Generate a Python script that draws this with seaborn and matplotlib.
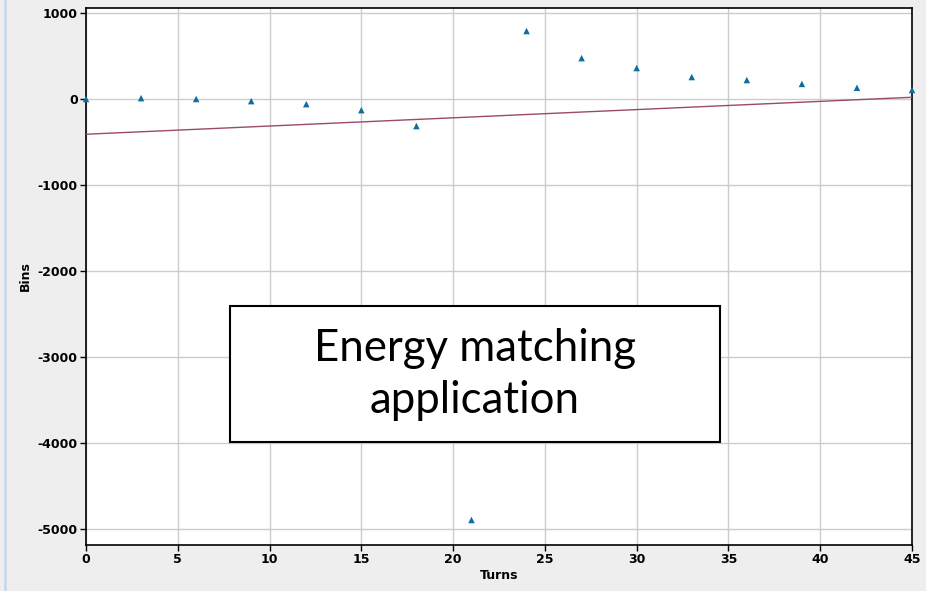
import matplotlib
matplotlib.use("Agg")
import matplotlib.pyplot as plt
import seaborn as sns
import pandas as pd
from matplotlib.patches import Rectangle
from matplotlib.lines import Line2D

turns = [0, 3, 6, 9, 12, 15, 18, 21, 24, 27, 30, 33, 36, 39, 42, 45]
bins = [0, 10, 0, -25, -60, -130, -315, -4895, 790, 475, 360, 255, 220, 175, 130, 105]
fit_turns = [0, 45]
fit_bins = [-410, 20]
x_ticks = [0, 5, 10, 15, 20, 25, 30, 35, 40, 45]
y_ticks = [-5000, -4000, -3000, -2000, -1000, 0, 1000]

sns.set_theme(style="whitegrid")
plt.rcParams['font.family'] = ['DejaVu Sans']
plt.rcParams['text.color'] = 'black'
plt.rcParams['axes.labelcolor'] = 'black'
plt.rcParams['xtick.color'] = 'black'
plt.rcParams['ytick.color'] = 'black'

fig = plt.figure(figsize=(9.26, 5.91), dpi=100, facecolor="#eeeeee")
ax = fig.add_axes([0.0929, 0.0778, 0.892, 0.9087])
ax.set_facecolor("white")

pts = pd.DataFrame({"Turns": turns, "Bins": bins})
fit = pd.DataFrame({"Turns": fit_turns, "Bins": fit_bins})
sns.lineplot(data=fit, x="Turns", y="Bins", ax=ax, color="#9b4a68", linewidth=1.0, zorder=3)
sns.scatterplot(data=pts, x="Turns", y="Bins", ax=ax, marker="^", s=22, color="#0f6e9e",
                edgecolor="none", zorder=4, clip_on=False)

ax.set_xlim(0, 45)
ax.set_ylim(-5186, 1058)
ax.set_xticks(x_ticks)
ax.set_yticks(y_ticks)
ax.set_xticklabels([str(v) for v in x_ticks], fontsize=9, fontweight="bold")
ax.set_yticklabels([str(v) for v in y_ticks], fontsize=9, fontweight="bold")
ax.set_xlabel("Turns", fontsize=9, fontweight="bold", labelpad=2)
ax.set_ylabel("Bins", fontsize=9, fontweight="bold", labelpad=4)
ax.grid(True, color="#cccccc", linewidth=1.0)
ax.tick_params(axis="both", which="major", length=4, width=1, color="black", pad=2,
               bottom=True, left=True)
for side in ["left", "bottom", "top", "right"]:
    ax.spines[side].set_color("black")
    ax.spines[side].set_linewidth(1.2)

fig.add_artist(Line2D([0.0055, 0.0055], [0, 1], transform=fig.transFigure,
                      color="#c9d8ea", linewidth=2))

rect = Rectangle((0.2484, 0.2521), 0.529, 0.2301, transform=fig.transFigure,
                 facecolor="white", edgecolor="black", linewidth=1.5, zorder=10)
fig.add_artist(rect)
fig.text(0.513, 0.367, "Energy matching\napplication", ha="center", va="center",
         fontsize=31.5, family=["Lato", "DejaVu Sans"], linespacing=1.33, zorder=11,
         color="black")

fig.savefig("out.png", dpi=100, facecolor=fig.get_facecolor())
